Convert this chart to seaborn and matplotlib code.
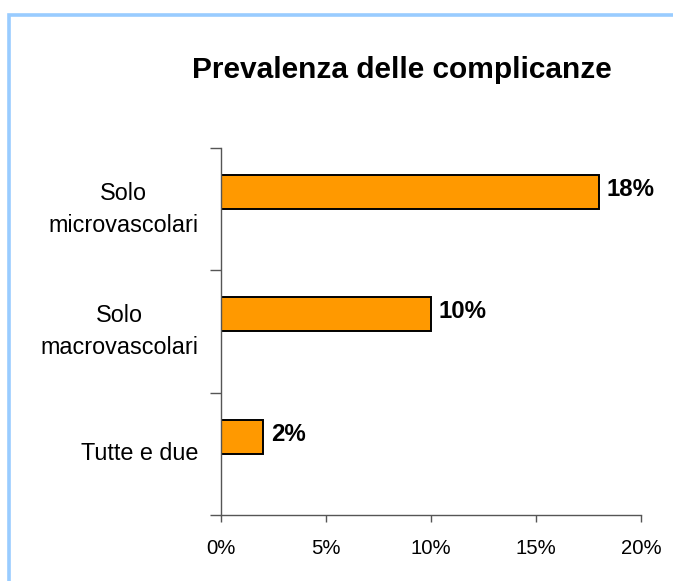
import matplotlib
matplotlib.use("Agg")
import matplotlib.pyplot as plt
import matplotlib.patches as mpatches
from matplotlib.ticker import FixedLocator, FuncFormatter
import seaborn as sns
import pandas as pd

categories = ["Solo\nmicrovascolari", "Solo\nmacrovascolari", "Tutte e due"]
values = [18, 10, 2]
value_labels = ["18%", "10%", "2%"]
x_ticks = [0, 5, 10, 15, 20]
title = "Prevalenza delle complicanze"

sns.set_theme(style="white")
plt.rcParams["font.family"] = ["Liberation Sans", "DejaVu Sans"]

df = pd.DataFrame({"cat": categories, "val": values, "serie": ["A"] * len(values)})

fig = plt.figure(figsize=(6.73, 5.81), dpi=100)
fig.patch.set_facecolor("white")

# light blue frame (top and left visible)
frame = mpatches.Rectangle((9 / 673, -0.1), 1.2, 1 - 14.5 / 581 + 0.1,
                           transform=fig.transFigure, fill=False,
                           edgecolor="#99CCFF", linewidth=2.6, zorder=0)
fig.patches.append(frame)

ax = fig.add_axes([221 / 673, 1 - 515 / 581, (641 - 221) / 673, (515 - 148) / 581])
sns.barplot(data=df, y="cat", x="val", hue="serie", hue_order=["A", "B"],
            order=categories, orient="h", width=0.56, dodge=True,
            palette={"A": "#FF9900", "B": "#FF9900"}, edgecolor="black",
            linewidth=1.4, legend=False, ax=ax, saturation=1)

ax.set_xlim(0, 20)
ax.set_ylim(2.5, -0.5)
ax.set_xlabel("")
ax.set_ylabel("")

spine_c = "#555555"
for s in ["top", "right"]:
    ax.spines[s].set_visible(False)
for s in ["left", "bottom"]:
    ax.spines[s].set_color(spine_c)
    ax.spines[s].set_linewidth(1.0)

ax.xaxis.set_major_locator(FixedLocator(x_ticks))
ax.xaxis.set_major_formatter(FuncFormatter(lambda v, p: f"{int(v)}%"))
ax.tick_params(axis="x", which="major", direction="out", length=5, width=1,
               color=spine_c, labelsize=14.6, pad=12, labelcolor="black", bottom=True)

ax.set_yticks(range(len(categories)))
ax.set_yticklabels(categories, ha="right", va="center", multialignment="center")
ax.tick_params(axis="y", which="major", length=0, labelsize=16.8, pad=16.5, labelcolor="black")
for lbl in ax.get_yticklabels():
    lbl.set_linespacing(1.5)
ax.yaxis.set_minor_locator(FixedLocator([-0.5, 0.5, 1.5, 2.5]))
ax.tick_params(axis="y", which="minor", direction="out", length=8, width=1,
               color=spine_c, left=True)

# value labels
bars = [p for p in ax.patches if p.get_width() > 0]
for bar, lab in zip(sorted(bars, key=lambda b: b.get_y()), value_labels):
    ax.annotate(lab, (bar.get_width(), bar.get_y() + bar.get_height() / 2),
                xytext=(5.5, 1.8), textcoords="offset points", ha="left", va="center",
                fontsize=17.3, fontweight="bold", color="black", annotation_clip=False)

fig.text(402 / 673, 1 - 69.5 / 581, title, ha="center", va="center",
         fontsize=21.5, fontweight="bold", color="black")

fig.savefig("out.png", dpi=100, facecolor="white")
